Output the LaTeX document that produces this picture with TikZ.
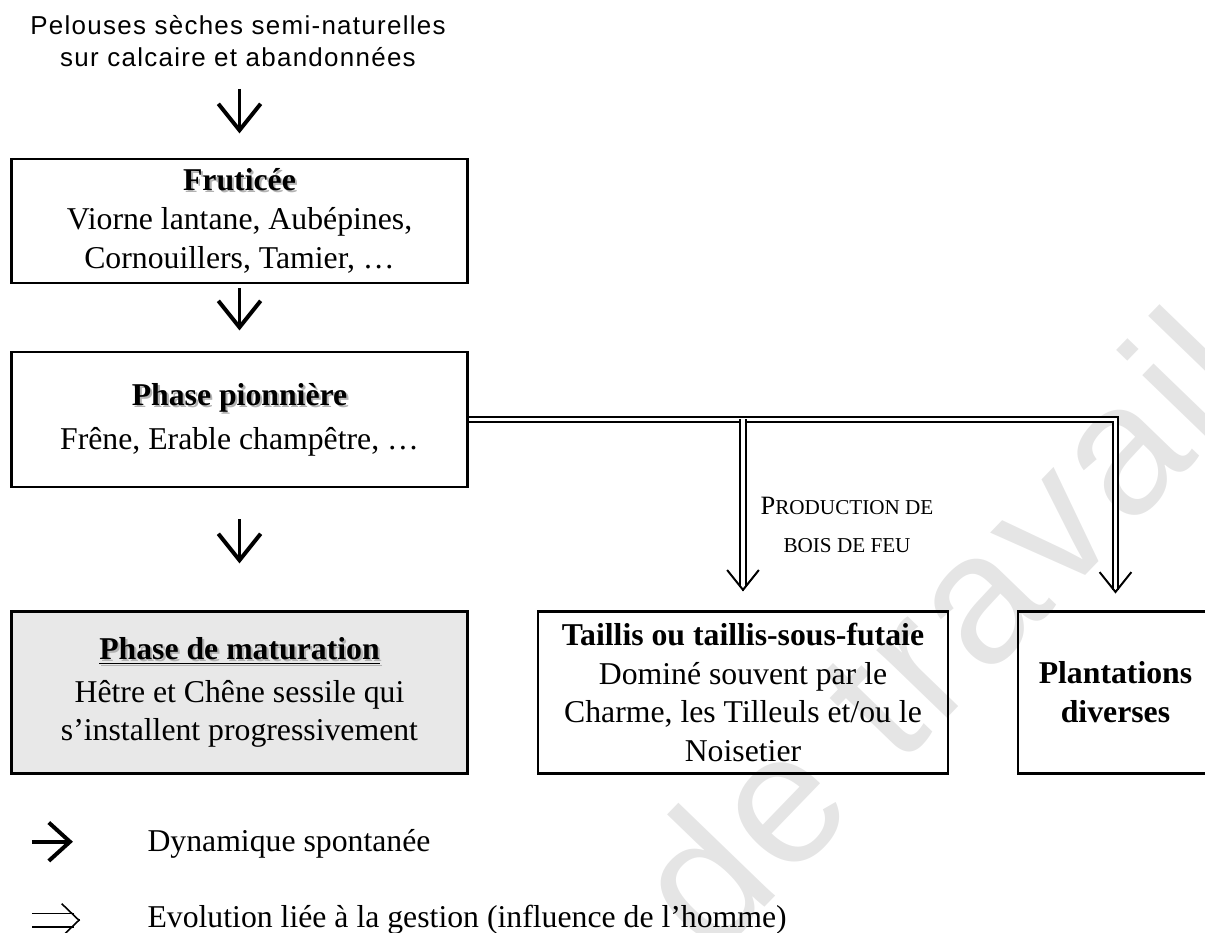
\documentclass[tikz,border=0pt]{standalone}
\usepackage{fontspec}
\setmainfont{Liberation Serif}
\newfontfamily\pelfont[LetterSpace=5]{Liberation Sans}
\newfontfamily\filfont[LetterSpace=3]{Liberation Sans}
\usetikzlibrary{arrows.meta}
\newcommand{\ombre}[1]{\leavevmode\rlap{\kern0.8pt\raisebox{-0.8pt}{\textcolor{black!30}{#1}}}#1}
\tikzstyle{texte}=[inner sep=0pt, font=\fontsize{12}{14.7}\selectfont]
\tikzstyle{etape}=[texte, draw, line width=1.1pt, align=center]
\tikzstyle{spont}=[line width=1.5pt, line join=miter, -{Straight Barb[length=10pt, width=16pt]}]
\tikzstyle{gest}=[double, line width=0.75pt, double distance=1.5pt]
\tikzstyle{tete}=[line width=0.75pt, line join=miter, -{Straight Barb[length=7.5pt, width=12pt]}]
\tikzstyle{filig}=[inner sep=0pt, text=black!10, font=\filfont\fontsize{70}{70}\selectfont]

\begin{document}
\begin{tikzpicture}[x=0.378pt, y=-0.378pt]
    \useasboundingbox (0,0) rectangle (1205,933);
    \node[filig, rotate=46, anchor=base west] (filigrane) at (712,962) {de travail};
    \node[texte, font=\pelfont\fontsize{9.8}{12.1}\selectfont, align=center, anchor=south] (pel) at (238,67) {Pelouses sèches semi-naturelles\\sur calcaire et abandonnées};
    \node[etape, minimum width=172.7pt, minimum height=46.9pt] (frut) at (239.5,221) {\textbf{\ombre{Fruticée}}\\Viorne lantane, Aubépines,\\Cornouillers, Tamier, …};
    \node[etape, minimum width=172.7pt, minimum height=51pt] (pion) at (239.5,419.5) {\textbf{\ombre{Phase pionnière}}\\[1.9pt]Frêne, Erable champêtre, …};
    \node[etape, fill=black!9, minimum width=172.7pt, minimum height=60.9pt] (matu) at (239.5,692.5) {\textbf{\ombre{\underline{Phase de maturation}}}\\[1.5pt]Hêtre et Chêne sessile qui\\s’installent progressivement};
    \node[etape, minimum width=155pt, minimum height=60.9pt] (tail) at (743,692.5) {\textbf{Taillis ou taillis-sous-futaie}\\Dominé souvent par le\\Charme, les Tilleuls et/ou le\\Noisetier};
    \node[etape, minimum width=73.7pt, minimum height=60.9pt] (plant) at (1115.5,692.5) {\textbf{Plantations}\\\textbf{diverses}};
    \node[texte, font=\fontsize{8}{14.4}\selectfont, align=center] (bois) at (847,525) {{\fontsize{10}{14.4}\selectfont P}RODUCTION DE\\BOIS DE FEU};
    \draw[spont, shorten <=8.3pt, shorten >=9.1pt] (pel.south -| frut.north) -- (frut.north);
    \draw[spont, shorten <=1.5pt, shorten >=7.6pt] (frut.south) -- (pion.north);
    \draw[spont, shorten <=11.7pt, shorten >=17.8pt] (pion.south) -- (matu.north);
    \draw[gest, shorten >=7.9pt] (pion.east) -| (plant.north);
    \draw[tete] ([yshift=6.5pt]plant.north) -- ([yshift=6.4pt]plant.north);
    \draw[gest, shorten >=8.7pt] (pion.east -| tail.north) -- (tail.north);
    \draw[tete] ([yshift=7.3pt]tail.north) -- ([yshift=7.2pt]tail.north);
    \node[texte, anchor=base west] (dyn) at (147,852) {Dynamique spontanée};
    \node[texte, anchor=base west] (evo) at (147,928) {Evolution liée à la gestion (influence de l’homme)};
    \draw[spont, -{Straight Barb[length=8pt, width=14.5pt]}] ([xshift=-43.5pt,yshift=1pt]dyn.west) -- ([xshift=-28pt,yshift=1pt]dyn.west);
    \draw[gest, line width=0.6pt, double distance=4.5pt] ([xshift=-43.5pt]evo.west) -- ([xshift=-27.5pt]evo.west);
    \draw[tete, line width=0.6pt, -{Straight Barb[length=6.5pt, width=12.5pt]}] ([xshift=-25.4pt]evo.west) -- ([xshift=-25.3pt]evo.west);
\end{tikzpicture}
\end{document}
